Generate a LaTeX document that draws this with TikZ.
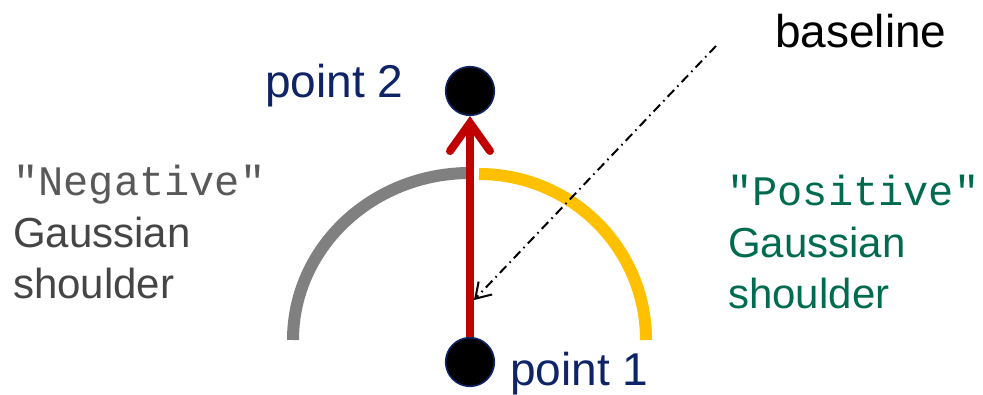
\documentclass[tikz,border=0pt]{standalone}
\usepackage{fontspec}
\setmainfont{Liberation Sans}
\newfontfamily\monofnt{Liberation Mono}
\usetikzlibrary{arrows.meta}
\definecolor{navy}{HTML}{0F2466}
\definecolor{posgreen}{HTML}{006B4F}
\definecolor{neggrey}{HTML}{595959}
\definecolor{negdark}{HTML}{454545}
\definecolor{arcgrey}{HTML}{808080}
\definecolor{arcyellow}{HTML}{FFC000}
\definecolor{arrowred}{HTML}{C00000}
\tikzset{
  dot/.style={circle,fill=black,draw=navy,line width=1.2pt,minimum size=36.5pt,inner sep=0pt},
  lbl/.style={anchor=base west,inner sep=0pt,font=\fontsize{34.5pt}{40pt}\selectfont},
  side/.style={anchor=base west,inner sep=0pt,font=\fontsize{31.5pt}{38pt}\selectfont},
  sidemono/.style={anchor=base west,inner sep=0pt,font=\monofnt\fontsize{31.5pt}{38pt}\selectfont},
  shoulder/.style={line width=9pt},
}
\begin{document}
\begin{tikzpicture}[x=0.75pt,y=0.75pt]
\useasboundingbox (0,0) rectangle (983,394);
% arcs
\draw[shoulder,arcgrey] (470,221) arc[start angle=90,end angle=180,x radius=177,y radius=167];
\draw[shoulder,arcyellow] (479,220) arc[start angle=90,end angle=0,x radius=167,y radius=166];
% points
\node[dot] (p2) at (470,303) {};
\node[dot] (p1) at (470,32) {};
\draw[arrowred,line width=6pt,-{Straight Barb[length=21pt,width=30pt,line cap=round]}] (p1) -- (p2);
% baseline arrow
\coordinate (bstart) at (716,348);
\coordinate (btip) at (474,94);
\draw[line width=1.5pt,dash pattern=on 7pt off 3.5pt on 1.2pt off 3.5pt,-{Straight Barb[length=11pt,width=14pt]}] (bstart) -- (btip);
% labels
\node[lbl,text=black] (tbase) at (775,347) {baseline};
\node[lbl,text=navy] (tp2) at (265,297) {point 2};
\node[lbl,text=navy] (tp1) at (510,9) {point 1};
\node[sidemono,text=neggrey] (tneg) at (13,199) {"Negative"};
\node[side,text=negdark] (tng) at (13,147) {Gaussian};
\node[side,text=negdark] (tns) at (13,96) {shoulder};
\node[sidemono,text=posgreen] (tpos) at (727,189) {"Positive"};
\node[side,text=posgreen] (tpg) at (728,137) {Gaussian};
\node[side,text=posgreen] (tps) at (728,86) {shoulder};
\end{tikzpicture}
\end{document}
